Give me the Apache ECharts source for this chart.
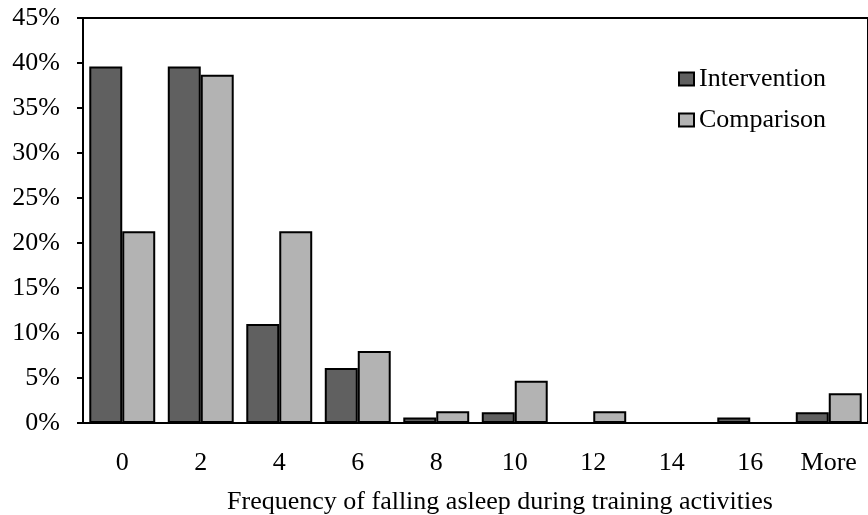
<!DOCTYPE html>
<html>
<head>
<meta charset="utf-8">
<script src="https://cdn.jsdelivr.net/npm/echarts@6/dist/echarts.min.js"></script>
<style>
  html, body { margin: 0; padding: 0; background: #fff; }
  #chart { width: 868px; height: 515px; }
</style>
</head>
<body>
<div id="chart"></div>
<script>
// 数据
var categories = ["0", "2", "4", "6", "8", "10", "12", "14", "16", "More"];
var intervention = [39.6, 39.6, 11.0, 6.1, 0.6, 1.2, 0, 0, 0.6, 1.2];
var comparison = [21.3, 38.7, 21.3, 8.0, 1.3, 4.7, 1.3, 0, 0, 3.3];
var seriesNames = ["Intervention", "Comparison"];
var xTitle = "Frequency of falling asleep during training activities";

(function() {
  var myChart = echarts.init(document.getElementById("chart"));
  var font = "'Liberation Serif', 'Times New Roman', serif";
  var colors = ["#606060", "#b3b3b3"];

  var option = {
    animation: false,
    backgroundColor: "#fff",
    title: {
      text: xTitle,
      left: 495,
      top: 484,
      textAlign: "center",
      textStyle: { fontFamily: font, fontSize: 26, fontWeight: "normal", color: "#000" }
    },
    legend: {
      orient: "vertical",
      left: 673,
      top: 61,
      itemWidth: 15,
      itemHeight: 13,
      itemGap: 15,
      icon: "rect",
      data: seriesNames,
      textStyle: { fontFamily: font, fontSize: 26, color: "#000" }
    },
    grid: {
      left: 83,
      top: 18,
      right: -10,
      bottom: 92,
      show: true,
      borderColor: "#000",
      borderWidth: 2
    },
    xAxis: {
      type: "category",
      data: categories,
      axisLine: { lineStyle: { color: "#000", width: 2 } },
      axisTick: { length: 7, lineStyle: { color: "#000", width: 2 } },
      axisLabel: { margin: 27, fontFamily: font, fontSize: 26, color: "#000" }
    },
    yAxis: {
      type: "value",
      min: 0,
      max: 45,
      interval: 5,
      axisLine: { show: true, lineStyle: { color: "#000", width: 2 } },
      axisTick: { show: true, length: 6, lineStyle: { color: "#000", width: 2 } },
      splitLine: { show: false },
      axisLabel: {
        margin: 23,
        formatter: "{value}%",
        fontFamily: font,
        fontSize: 26,
        color: "#000"
      }
    },
    series: [
      {
        name: seriesNames[0],
        type: "bar",
        data: intervention,
        barGap: "0%",
        barCategoryGap: "16%",
        itemStyle: { color: colors[0], borderColor: "#000", borderWidth: 2 }
      },
      {
        name: seriesNames[1],
        type: "bar",
        data: comparison,
        barGap: "0%",
        barCategoryGap: "16%",
        itemStyle: { color: colors[1], borderColor: "#000", borderWidth: 2 }
      }
    ]
  };
  myChart.setOption(option);
})();
</script>
</body>
</html>
